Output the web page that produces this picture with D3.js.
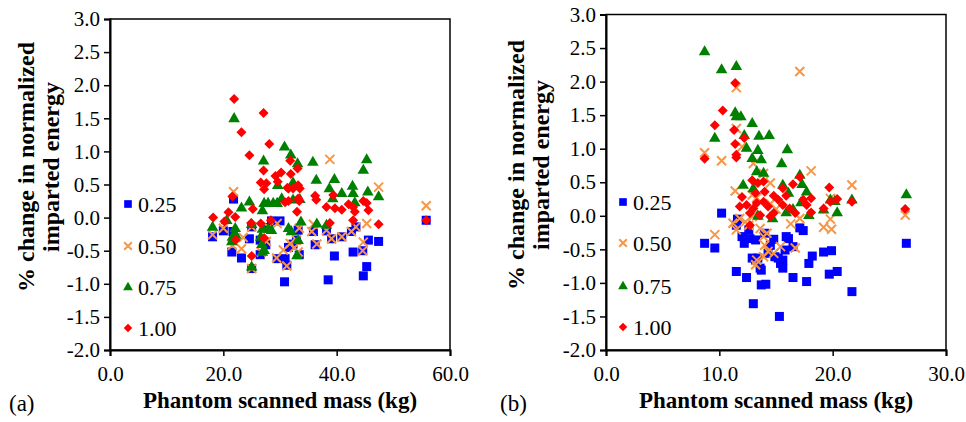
<!DOCTYPE html>
<html><head><meta charset="utf-8">
<script src="https://cdn.jsdelivr.net/npm/d3@7"></script>
<style>body{margin:0;background:#fff}svg{display:block}
text{font-family:"Liberation Serif","Times New Roman",Times,"DejaVu Serif",serif !important}</style>
</head><body><svg id="c" width="966" height="422"></svg>
<script>
const seriesNames = ["0.25", "0.50", "0.75", "1.00"];
const seriesColors = ["#0000ff", "#f79646", "#008000", "#ff0000"];
const yTickValues = [-2, -1.5, -1, -0.5, 0, 0.5, 1, 1.5, 2, 2.5, 3];
const xTicksA = [0, 20, 40, 60];
const xTicksB = [0, 10, 20, 30];
const xTitle = "Phantom scanned mass (kg)";
const yTitle1 = "% change in normalized";
const yTitle2 = "imparted energy";

// Panel (a): [mass kg, % change]
const a025 = [[18.1,-0.29],[20.0,-0.20],[21.7,-0.21],[21.8,0.28],[21.5,-0.52],[23.2,-0.61],[24.6,-0.32],[25.0,-0.14],[25.0,-0.77],[26.5,-0.34],[26.5,-0.56],[27.5,-0.41],[28.5,-0.05],[30.0,-0.05],[29.5,-0.62],[30.9,-0.62],[30.8,-0.97],[31.2,-0.72],[33.2,-0.19],[32.9,-0.34],[33.4,-0.56],[35.9,-0.21],[36.2,-0.41],[38.5,-0.94],[39.1,-0.32],[39.6,-0.58],[40.9,-0.29],[42.6,-0.21],[43.4,-0.14],[42.9,-0.52],[44.6,-0.50],[45.3,-0.74],[44.7,-0.88],[45.6,-0.34],[47.4,-0.36],[55.8,-0.04],[38.2,-0.20],[31.5,-0.45],[32.3,-0.40],[28.0,-0.15]];
const a050 = [[18.1,-0.26],[20.0,-0.16],[21.8,0.39],[21.6,-0.42],[23.2,-0.47],[25.0,-0.14],[25.0,-0.77],[26.7,-0.52],[27.6,-0.36],[29.5,-0.09],[29.4,-0.61],[30.6,-0.49],[31.2,-0.73],[31.8,-0.39],[32.5,-0.46],[32.9,-0.34],[33.2,-0.52],[33.4,-0.16],[35.6,-0.21],[35.9,-0.10],[36.5,-0.40],[38.2,-0.19],[38.8,0.88],[39.1,-0.32],[40.9,-0.29],[42.6,-0.21],[43.4,-0.14],[44.7,-0.37],[44.6,-0.50],[45.3,-0.09],[47.4,0.46],[55.8,0.18],[28.0,-0.15],[23.5,-0.30]];
const a075 = [[18.1,-0.14],[20.6,-0.04],[21.9,1.50],[22.1,-0.16],[21.6,-0.29],[21.5,-0.36],[22.2,-0.26],[23.2,0.15],[24.6,0.24],[25.0,-0.10],[25.0,-0.74],[26.9,0.11],[27.1,0.86],[27.2,0.22],[27.9,0.22],[28.8,0.22],[29.5,0.22],[26.9,-0.17],[27.9,-0.17],[28.5,-0.19],[26.6,-0.29],[26.8,-0.40],[27.2,-0.49],[26.9,-0.52],[29.6,0.49],[30.3,0.29],[30.8,1.07],[31.9,0.95],[33.1,0.82],[32.3,0.53],[32.3,0.27],[33.5,0.28],[31.5,-0.16],[32.0,-0.21],[33.7,-0.06],[33.2,-0.34],[33.0,-0.57],[35.8,0.84],[36.4,0.57],[36.5,-0.09],[38.2,-0.11],[38.7,0.44],[39.3,0.29],[39.6,0.58],[40.9,0.37],[42.8,0.48],[42.9,0.37],[43.2,0.23],[44.7,0.72],[45.3,0.88],[45.5,0.39],[47.4,0.32]];
const a100 = [[18.2,0.00],[20.9,0.08],[20.2,-0.06],[22.1,0.01],[21.6,0.32],[21.9,1.79],[23.2,1.29],[24.6,0.94],[24.9,-0.08],[25.2,0.13],[25.0,-0.58],[26.6,-0.09],[28.4,-0.04],[22.2,-0.34],[27.2,-0.31],[27.1,1.58],[28.1,1.11],[27.1,0.71],[29.2,0.63],[30.2,0.68],[31.8,0.86],[31.9,0.66],[33.1,0.74],[26.6,0.53],[27.6,0.52],[29.6,0.54],[27.2,0.43],[31.3,0.45],[31.5,0.44],[32.3,0.44],[33.2,0.49],[33.5,0.44],[31.5,0.25],[30.9,0.23],[33.2,0.29],[33.4,0.25],[36.2,0.33],[36.4,0.27],[33.0,0.09],[38.2,0.16],[39.4,0.34],[39.7,0.14],[40.9,0.12],[42.1,0.20],[42.9,0.16],[43.2,0.09],[44.7,0.25],[45.3,0.22],[45.6,0.11],[38.8,-0.08],[42.9,-0.04],[47.4,-0.10],[55.8,-0.04]];

// Panel (b): [mass kg, % change]
const b025 = [[8.7,-0.41],[9.6,-0.48],[10.2,0.04],[11.5,-0.14],[12.0,-0.31],[12.2,-0.41],[12.6,-0.21],[12.7,-0.34],[13.2,-0.36],[13.2,-0.66],[12.9,-0.63],[13.4,-0.63],[13.7,-0.81],[13.6,-0.78],[14.0,-0.26],[14.5,-0.44],[14.3,-0.56],[14.9,-0.61],[15.2,-0.63],[15.4,-0.71],[15.6,-0.78],[15.9,-0.31],[15.8,-0.51],[15.6,-0.66],[16.1,-0.34],[16.5,-0.46],[11.5,-0.83],[12.4,-0.92],[13.7,-1.03],[14.1,-1.02],[13.0,-1.31],[15.3,-1.50],[16.5,-0.92],[17.1,-0.18],[17.4,-0.22],[17.7,-0.98],[18.2,-0.60],[17.9,-0.71],[19.2,-0.54],[19.9,-0.52],[20.4,-0.83],[19.7,-0.87],[21.7,-1.13],[26.5,-0.41],[11.6,-0.05],[14.8,-0.35]];
const b050 = [[8.7,0.94],[10.2,0.82],[9.6,-0.28],[11.5,1.91],[11.5,1.30],[12.0,1.03],[13.0,0.78],[13.9,0.63],[14.5,0.49],[11.4,0.37],[17.1,2.15],[18.1,0.67],[21.7,0.46],[11.2,-0.11],[11.5,-0.21],[11.8,-0.04],[12.3,-0.09],[12.9,-0.01],[12.6,-0.14],[13.0,0.01],[13.6,-0.19],[13.9,-0.31],[14.2,-0.26],[14.0,-0.44],[14.3,-0.53],[13.9,-0.61],[13.3,-0.66],[13.2,-0.73],[14.8,-0.56],[15.4,-0.46],[16.7,-0.48],[16.3,-0.12],[17.1,-0.04],[12.9,0.31],[13.3,0.27],[14.5,0.18],[19.8,-0.05],[19.2,-0.17],[19.9,-0.20],[19.8,0.26],[26.4,0.01],[15.0,0.10]];
const b075 = [[8.7,2.45],[10.2,2.18],[11.5,2.23],[11.4,1.54],[11.5,1.48],[11.9,1.48],[12.9,1.38],[9.6,1.16],[12.2,1.20],[13.5,1.19],[14.4,1.20],[12.4,1.01],[13.4,0.98],[16.0,0.99],[12.9,0.86],[13.7,0.84],[15.5,0.78],[13.3,0.66],[13.9,0.64],[17.1,0.61],[12.1,0.46],[13.0,0.41],[15.6,0.46],[16.1,0.34],[17.3,0.47],[17.7,0.36],[17.9,0.01],[19.8,0.24],[20.2,0.22],[21.7,0.24],[20.4,0.05],[19.2,0.09],[26.5,0.32],[14.7,-0.04],[13.4,0.00],[15.9,0.05],[16.5,0.10],[17.2,0.20]];
const b100 = [[8.7,0.85],[9.6,1.35],[10.3,1.57],[11.4,1.98],[11.3,1.28],[12.2,1.16],[11.4,1.07],[11.5,0.91],[11.5,0.87],[12.9,0.53],[13.4,0.49],[13.9,0.51],[17.1,0.58],[16.5,0.47],[19.7,0.42],[13.2,0.34],[14.0,0.36],[15.6,0.41],[12.0,0.28],[12.4,0.16],[11.8,0.14],[12.7,0.04],[13.6,0.01],[14.5,-0.01],[13.3,0.19],[13.9,0.21],[14.3,0.14],[13.0,0.11],[14.8,0.04],[15.2,0.24],[15.6,0.16],[16.2,0.11],[16.7,0.04],[17.4,0.24],[18.1,0.26],[18.1,0.05],[17.7,0.16],[19.2,0.11],[19.8,0.21],[20.4,0.25],[21.7,0.21],[26.4,0.10],[12.7,-0.14],[14.8,0.30],[15.9,0.30]];

const svg = d3.select("#c");

function marker(g, kind, x, y, color, k) {
  k = k || 1;
  if (kind === 0) {
    const s = 4.5 * k;
    g.append("rect").attr("x", x - s).attr("y", y - s).attr("width", 2 * s).attr("height", 2 * s).attr("fill", color);
  } else if (kind === 1) {
    const s = 4.5 * k;
    g.append("path").attr("d", `M${x-s},${y-s}L${x+s},${y+s}M${x-s},${y+s}L${x+s},${y-s}`)
      .attr("stroke", color).attr("stroke-width", 2).attr("fill", "none");
  } else if (kind === 2) {
    g.append("path").attr("d", d3.symbol(d3.symbolTriangle, 58 * k * k)()).attr("transform", `translate(${x},${y+0.5})`).attr("fill", color);
  } else {
    const s = 5 * k;
    g.append("path").attr("d", `M${x},${y-s}L${x+s},${y}L${x},${y+s}L${x-s},${y}Z`).attr("fill", color);
  }
}

function drawPanel(cfg) {
  const x = d3.scaleLinear().domain(cfg.xDomain).range([cfg.left, cfg.right]);
  const y = d3.scaleLinear().domain([-2, 3]).range([cfg.bottom, cfg.top]);
  const g = svg.append("g");

  g.append("rect").attr("x", cfg.left).attr("y", cfg.top).attr("width", cfg.right - cfg.left)
    .attr("height", cfg.bottom - cfg.top).attr("fill", "none").attr("stroke", "#000").attr("stroke-width", 1.5);

  const ya = g.append("g").attr("transform", `translate(${cfg.left},0)`)
    .call(d3.axisLeft(y).tickValues(yTickValues).tickSize(6).tickPadding(4).tickFormat(d => d.toFixed(1)));
  const xa = g.append("g").attr("transform", `translate(0,${cfg.bottom})`)
    .call(d3.axisBottom(x).tickValues(cfg.xTicks).tickSize(6).tickFormat(d => d.toFixed(1)));
  [ya, xa].forEach(a => {
    a.attr("font-family", null);
    a.select(".domain").attr("stroke", "#000").attr("stroke-width", 2);
    a.selectAll(".tick line").attr("stroke", "#000").attr("stroke-width", 1.5);
    a.selectAll("text").attr("font-size", 21).attr("fill", "#000");
  });
  xa.selectAll("text").attr("y", 31).attr("dy", 0);

  cfg.series.forEach((data, i) => {
    const sg = g.append("g");
    data.forEach(d => marker(sg, i, x(d[0]), y(d[1]), seriesColors[i]));
  });

  cfg.legendY.forEach((ly, i) => {
    marker(g, i, cfg.legendX, ly, seriesColors[i], 0.85);
    g.append("text").attr("x", cfg.legendX + 10).attr("y", ly + 8).text(seriesNames[i])
      .attr("font-size", 22).attr("fill", "#000");
  });

  g.append("text").attr("x", (cfg.left + cfg.right) / 2).attr("y", 408).attr("text-anchor", "middle")
    .attr("font-weight", "bold").attr("font-size", 23).text(xTitle);
  const cy = cfg.titleCY;
  g.append("text").attr("transform", `translate(${cfg.t1x},${cy}) rotate(-90)`).attr("text-anchor", "middle")
    .attr("font-weight", "bold").attr("font-size", 24).text(yTitle1);
  g.append("text").attr("transform", `translate(${cfg.t2x},${cy}) rotate(-90)`).attr("text-anchor", "middle")
    .attr("font-weight", "bold").attr("font-size", 24).text(yTitle2);
  g.append("text").attr("x", cfg.labelX).attr("y", 411).text(cfg.label)
    .attr("font-size", 23).attr("fill", "#000");
}

drawPanel({left: 110, right: 450, top: 19, bottom: 350, xDomain: [0, 60], xTicks: xTicksA,
  series: [a025, a050, a075, a100], legendX: 128, legendY: [204, 246, 287, 328],
  t1x: 34, t2x: 59, titleCY: 167, labelX: 9, label: "(a)"});
drawPanel({left: 606, right: 946, top: 14.5, bottom: 350, xDomain: [0, 30], xTicks: xTicksB,
  series: [b025, b050, b075, b100], legendX: 623, legendY: [202, 243, 286, 327],
  t1x: 524, t2x: 549, titleCY: 165, labelX: 500, label: "(b)"});
</script>
</body></html>
